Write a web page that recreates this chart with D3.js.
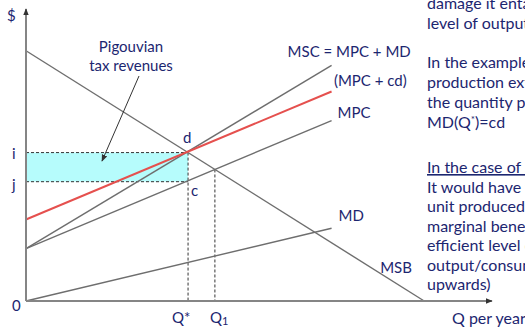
<!DOCTYPE html>
<html>
<head>
<meta charset="utf-8">
<script src="https://cdn.jsdelivr.net/npm/d3@7"></script>
<style>
  html, body { margin: 0; padding: 0; background: #fff; }
  svg { display: block; font-family: Lato, "Open Sans", sans-serif; }
</style>
</head>
<body>
<script>
// Curve endpoints (quantity, $ per unit)
const msbPts    = [[0, 86], [86, 0]];
const mscPts    = [[0, 18], [66, 81]];
const mpcTaxPts = [[0, 28], [66, 72]];
const mpcPts    = [[0, 18], [66, 62]];
const mdPts     = [[0, 0],  [66, 25]];

// Key quantities and prices
const qStar = 35;    // efficient output
const q1 = 40.8;     // market output (MPC = MSB)
const priceI = 51;   // price with tax (point d)
const priceJ = 41;   // MPC at Q* (point c)

const curveLabels = [
  { text: "MSC = MPC + MD", q: 56.5, p: 84 },
  { text: "(MPC + cd)",     q: 66.5, p: 74 },
  { text: "MPC",            q: 67.3, p: 63 },
  { text: "MD",             q: 67.5, p: 27.5 },
  { text: "MSB",            q: 76.5, p: 9.7 }
];

const sideText1 = ["damage it entails at the efficient", "level of output.", "",
  "In the example of a negative", "production externality, the tax on", "the quantity produced is set at"];
const sideText2 = ["It would have to be a subsidy for each", "unit produced or consumed equal to the",
  "marginal benefit, which shifts the", "efficient level of", "output/consumption to the right (MPB",
  "upwards)"];

const W = 525, H = 328;
const ink = "#1c2670", lineGray = "#6e6e6e", axisGray = "#858585";

const svg = d3.select("body").append("svg").attr("width", W).attr("height", H);

const x = d3.scaleLinear().domain([0, 100]).range([26, 489]);
const y = d3.scaleLinear().domain([0, 100]).range([301, 10]);

const defs = svg.append("defs");
defs.append("marker").attr("id", "ah").attr("viewBox", "0 0 10 10")
  .attr("refX", 9).attr("refY", 5).attr("markerWidth", 7).attr("markerHeight", 7)
  .attr("markerUnits", "userSpaceOnUse").attr("orient", "auto")
  .append("path").attr("d", "M0,1 L10,5 L0,9 Z").attr("fill", "#333");

// Tax revenue rectangle
svg.append("rect")
  .attr("x", x(0)).attr("y", y(priceI))
  .attr("width", x(qStar) - x(0)).attr("height", y(priceJ) - y(priceI))
  .attr("fill", "#b6fcfc");

const line = d3.line().x(d => x(d[0])).y(d => y(d[1]));

// Dashed guides
const dash = svg.append("g").attr("stroke", "#333").attr("stroke-width", 1)
  .attr("stroke-dasharray", "3,2").attr("fill", "none");
dash.append("path").attr("d", line([[0, priceI], [qStar, priceI]]));
dash.append("path").attr("d", line([[0, priceJ], [qStar, priceJ]]));
dash.append("path").attr("d", line([[qStar, priceI], [qStar, 0]]));
const pQ1 = msbPts[0][1] - q1;
dash.append("path").attr("d", line([[q1, pQ1], [q1, 0]]));

// Curves
const curves = svg.append("g").attr("fill", "none");
[msbPts, mscPts, mpcPts, mdPts].forEach(pts =>
  curves.append("path").attr("d", line(pts)).attr("stroke", lineGray).attr("stroke-width", 1.4));
curves.append("path").attr("d", line(mpcTaxPts)).attr("stroke", "#e5504e").attr("stroke-width", 2);

// Axes
svg.append("line").attr("x1", x(0)).attr("y1", y(0)).attr("x2", x(0)).attr("y2", 9)
  .attr("stroke", axisGray).attr("stroke-width", 2).attr("marker-end", "url(#ah)");
svg.append("line").attr("x1", x(0)).attr("y1", y(0)).attr("x2", 492).attr("y2", y(0))
  .attr("stroke", axisGray).attr("stroke-width", 2).attr("marker-end", "url(#ah)");

const txt = svg.append("g").attr("fill", ink).style("font-size", "15px");

txt.append("text").attr("x", 7).attr("y", 21).text("$");
txt.append("text").attr("x", 12).attr("y", 311).text("0");
txt.append("text").attr("x", 12).attr("y", y(priceI) + 6).text("i");
txt.append("text").attr("x", 12).attr("y", y(priceJ) + 8).text("j");
txt.append("text").attr("x", x(qStar) - 5).attr("y", y(priceI) - 10).text("d");
txt.append("text").attr("x", x(qStar) + 3).attr("y", y(priceJ) + 14).text("c");

// Quantity labels
const qs = txt.append("text").attr("x", x(qStar) - 16).attr("y", 323);
qs.append("tspan").text("Q*");
const q1t = txt.append("text").attr("x", x(q1) - 5).attr("y", 323);
q1t.append("tspan").text("Q");
q1t.append("tspan").attr("dy", 2).style("font-size", "11px").text("1");
txt.append("text").attr("x", 452).attr("y", 324).style("font-size", "16px").text("Q per year");

// Curve labels
curveLabels.forEach(l =>
  txt.append("text").attr("x", x(l.q)).attr("y", y(l.p)).text(l.text));

// Tax revenue annotation
txt.append("text").attr("x", 131).attr("y", 52).attr("text-anchor", "middle").text("Pigouvian");
txt.append("text").attr("x", 131).attr("y", 71).attr("text-anchor", "middle").text("tax revenues");
svg.append("line").attr("x1", 139).attr("y1", 76).attr("x2", 102).attr("y2", 161)
  .attr("stroke", "#333").attr("stroke-width", 1).attr("marker-end", "url(#ah)");

// Side commentary
const side = txt.append("g").style("font-size", "16px");
sideText1.forEach((s, i) => {
  if (s) side.append("text").attr("x", 427).attr("y", 9 + i * 19.8).text(s);
});
const md = side.append("text").attr("x", 427).attr("y", 9 + 6 * 19.8);
md.append("tspan").text("MD(Q");
md.append("tspan").attr("dy", -5).style("font-size", "10px").text("*");
md.append("tspan").attr("dy", 5).text(")=cd");
side.append("text").attr("x", 427).attr("y", 173).attr("text-decoration", "underline")
  .text("In the case of a positive externality:");
sideText2.forEach((s, i) =>
  side.append("text").attr("x", 427).attr("y", 192.5 + i * 19.5).text(s));
</script>
</body>
</html>
